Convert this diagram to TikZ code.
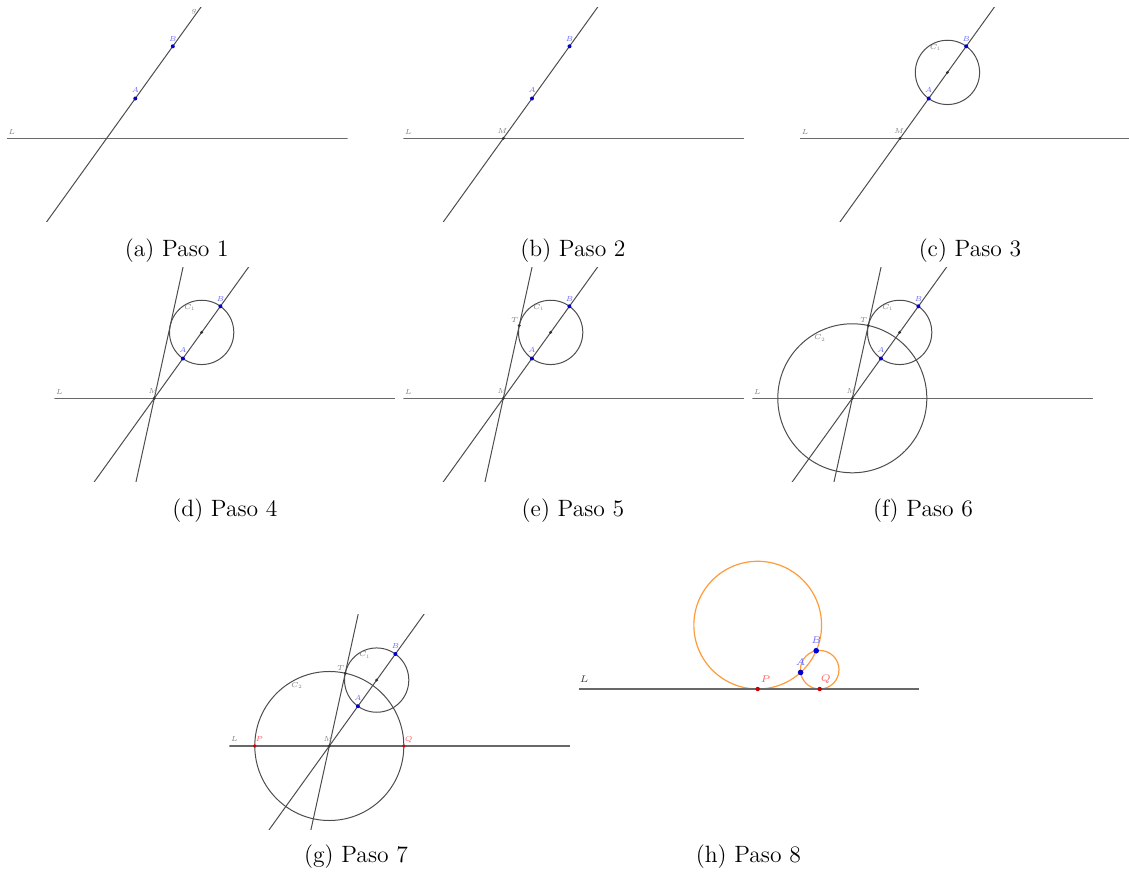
\RequirePackage{fix-cm}
\documentclass[tikz,border=0pt]{standalone}
\usepackage{amsmath}
\usepackage{amssymb}
\usepackage{tikz}
\usetikzlibrary{calc}
\definecolor{gristrazo}{HTML}{4D4D4D}
\definecolor{azulpunto}{HTML}{0000D0}
\definecolor{azuletiq}{HTML}{6A6AFF}
\definecolor{rojopunto}{HTML}{CC0000}
\definecolor{rojoetiq}{HTML}{FF5C5C}
\definecolor{naranja}{HTML}{FF9B3A}
\tikzset{
  recta/.style={draw=gristrazo, line width=0.5pt},
  rectaL/.style={draw=gristrazo!85, line width=0.7pt},
  circunf/.style={draw=gristrazo, line width=0.5pt},
  lugar/.style={draw=naranja, line width=0.6pt},
  etiq/.style={inner sep=0pt, text=gray, font=\fontsize{3.6}{4}\selectfont},
  etiqh/.style={inner sep=0pt, font=\fontsize{4.8}{5}\selectfont},
  pie/.style={anchor=base, inner sep=0pt, font=\fontsize{11.8}{14}\selectfont},
}

\begin{document}
\begin{tikzpicture}[x=0.5pt,y=0.5pt]
\useasboundingbox (0,0) rectangle (1129,873);

% (a) Paso 1
\begin{scope}[shift={(106.7,734.7)}]
\clip (-100,-83) rectangle (241,131);
\coordinate (M) at (0,0);
\coordinate (A) at (54.3:49);
\coordinate (B) at (54.3:113.3);
\draw[rectaL] (-100,0) -- (241,0);
\draw[recta] ($(M)!-3!(B)$) -- ($(M)!3!(B)$);
\fill[azulpunto] (A) circle (2) (B) circle (2);
\node[etiq] (labL) at (-95,6.6) {$L$};
\node[etiq] (labg) at (87.3,126.6) {$g$};
\node[etiq, text=azuletiq] (labA) at ($(A)+(0,8)$) {$A$};
\node[etiq, text=azuletiq] (labB) at ($(B)+(0,7.7)$) {$B$};
\end{scope}
\node[pie] (capa) at (176.8,616.3) {(a) Paso 1};

% (b) Paso 2
\begin{scope}[shift={(503.4,734.7)}]
\clip (-100,-83) rectangle (241,131);
\coordinate (M) at (0,0);
\coordinate (A) at (54.3:49);
\coordinate (B) at (54.3:113.3);
\draw[rectaL] (-100,0) -- (241,0);
\draw[recta] ($(M)!-3!(B)$) -- ($(M)!3!(B)$);
\fill[black!80] (M) circle (1.6);
\fill[azulpunto] (A) circle (2) (B) circle (2);
\node[etiq] (labL) at (-95,6.6) {$L$};
\node[etiq] (labM) at (-1,7.3) {$M$};
\node[etiq, text=azuletiq] (labA) at ($(A)+(0,8)$) {$A$};
\node[etiq, text=azuletiq] (labB) at ($(B)+(0,7.7)$) {$B$};
\end{scope}
\node[pie] (capb) at (573,616.3) {(b) Paso 2};

% (c) Paso 3
\begin{scope}[shift={(900.1,734.7)}]
\clip (-100,-83) rectangle (241,131);
\coordinate (M) at (0,0);
\coordinate (A) at (54.3:49);
\coordinate (B) at (54.3:113.3);
\coordinate (O) at (54.3:81.15);
\draw[rectaL] (-100,0) -- (241,0);
\draw[recta] ($(M)!-3!(B)$) -- ($(M)!3!(B)$);
\draw[circunf] (O) circle (32.15);
\fill[black!80] (M) circle (1.6) (O) circle (1.6);
\fill[azulpunto] (A) circle (2) (B) circle (2);
\node[etiq] (labL) at (-95,6.6) {$L$};
\node[etiq] (labM) at (-1,7.3) {$M$};
\node[etiq] (labC1) at (35.5,91) {$C_1$};
\node[etiq, text=azuletiq] (labA) at ($(A)+(0,8)$) {$A$};
\node[etiq, text=azuletiq] (labB) at ($(B)+(0,7.7)$) {$B$};
\end{scope}
\node[pie] (capc) at (970,616.3) {(c) Paso 3};

% (d) Paso 4
\begin{scope}[shift={(154.3,474.7)}]
\clip (-100,-83) rectangle (241,131);
\coordinate (M) at (0,0);
\coordinate (A) at (54.3:49);
\coordinate (B) at (54.3:113.3);
\coordinate (O) at (54.3:81.15);
\coordinate (T) at (77.64:74.51);
\draw[rectaL] (-100,0) -- (241,0);
\draw[recta] ($(M)!-3!(B)$) -- ($(M)!3!(B)$);
\draw[recta] ($(M)!-3!(T)$) -- ($(M)!3!(T)$);
\draw[circunf] (O) circle (32.15);
\fill[black!80] (M) circle (1.6) (O) circle (1.6);
\fill[azulpunto] (A) circle (2) (B) circle (2);
\node[etiq] (labL) at (-95,6.6) {$L$};
\node[etiq] (labM) at (-1,7.3) {$M$};
\node[etiq] (labC1) at (35.5,91) {$C_1$};
\node[etiq, text=azuletiq] (labA) at ($(A)+(0,8)$) {$A$};
\node[etiq, text=azuletiq] (labB) at ($(B)+(0,7.7)$) {$B$};
\end{scope}
\node[pie] (capd) at (225,356.5) {(d) Paso 4};

% (e) Paso 5
\begin{scope}[shift={(503.3,474.7)}]
\clip (-100,-83) rectangle (241,131);
\coordinate (M) at (0,0);
\coordinate (A) at (54.3:49);
\coordinate (B) at (54.3:113.3);
\coordinate (O) at (54.3:81.15);
\coordinate (T) at (77.64:74.51);
\draw[rectaL] (-100,0) -- (241,0);
\draw[recta] ($(M)!-3!(B)$) -- ($(M)!3!(B)$);
\draw[recta] ($(M)!-3!(T)$) -- ($(M)!3!(T)$);
\draw[circunf] (O) circle (32.15);
\fill[black!80] (M) circle (1.6) (O) circle (1.6) (T) circle (1.6);
\fill[azulpunto] (A) circle (2) (B) circle (2);
\node[etiq] (labL) at (-95,6.6) {$L$};
\node[etiq] (labM) at (-1,7.3) {$M$};
\node[etiq] (labT) at ($(T)+(-4.4,5.6)$) {$T$};
\node[etiq] (labC1) at (35.5,91) {$C_1$};
\node[etiq, text=azuletiq] (labA) at ($(A)+(0,8)$) {$A$};
\node[etiq, text=azuletiq] (labB) at ($(B)+(0,7.7)$) {$B$};
\end{scope}
\node[pie] (cape) at (573,356.5) {(e) Paso 5};

% (f) Paso 6
\begin{scope}[shift={(852.3,474.7)}]
\clip (-100,-83) rectangle (241,131);
\coordinate (M) at (0,0);
\coordinate (A) at (54.3:49);
\coordinate (B) at (54.3:113.3);
\coordinate (O) at (54.3:81.15);
\coordinate (T) at (77.64:74.51);
\draw[rectaL] (-100,0) -- (241,0);
\draw[recta] ($(M)!-3!(B)$) -- ($(M)!3!(B)$);
\draw[recta] ($(M)!-3!(T)$) -- ($(M)!3!(T)$);
\draw[circunf] (O) circle (32.15);
\draw[circunf] (M) circle (74.51);
\fill[black!80] (M) circle (1.6) (O) circle (1.6) (T) circle (1.6);
\fill[azulpunto] (A) circle (2) (B) circle (2);
\node[etiq] (labL) at (-95,6.6) {$L$};
\node[etiq] (labM) at (-1,7.3) {$M$};
\node[etiq] (labT) at ($(T)+(-4.4,5.6)$) {$T$};
\node[etiq] (labC1) at (35.5,91) {$C_1$};
\node[etiq] (labC2) at (-32.3,60.3) {$C_2$};
\node[etiq, text=azuletiq] (labA) at ($(A)+(0,8)$) {$A$};
\node[etiq, text=azuletiq] (labB) at ($(B)+(0,7.7)$) {$B$};
\end{scope}
\node[pie] (capf) at (923,356.5) {(f) Paso 6};

% (g) Paso 7
\begin{scope}[shift={(329.3,127)}]
\clip (-100,-83) rectangle (241,131);
\coordinate (M) at (0,0);
\coordinate (A) at (54.3:49);
\coordinate (B) at (54.3:113.3);
\coordinate (O) at (54.3:81.15);
\coordinate (T) at (77.64:74.51);
\coordinate (P) at (-74.51,0);
\coordinate (Q) at (74.51,0);
\draw[rectaL] (-100,0) -- (241,0);
\draw[recta] ($(M)!-3!(B)$) -- ($(M)!3!(B)$);
\draw[recta] ($(M)!-3!(T)$) -- ($(M)!3!(T)$);
\draw[circunf] (O) circle (32.15);
\draw[circunf] (M) circle (74.51);
\fill[black!80] (M) circle (1.6) (O) circle (1.6) (T) circle (1.6);
\fill[azulpunto] (A) circle (2) (B) circle (2);
\fill[rojopunto] (P) circle (1.8) (Q) circle (1.8);
\node[etiq] (labL) at (-95,6.6) {$L$};
\node[etiq] (labM) at (-1,7.3) {$M$};
\node[etiq] (labT) at ($(T)+(-4.4,5.6)$) {$T$};
\node[etiq] (labC1) at (35.5,91) {$C_1$};
\node[etiq] (labC2) at (-32.3,60.3) {$C_2$};
\node[etiq, text=azuletiq] (labA) at ($(A)+(0,8)$) {$A$};
\node[etiq, text=azuletiq] (labB) at ($(B)+(0,7.7)$) {$B$};
\node[etiq, text=rojoetiq] (labP) at ($(P)+(4.7,6.7)$) {$P$};
\node[etiq, text=rojoetiq] (labQ) at ($(Q)+(5,6.7)$) {$Q$};
\end{scope}
\node[pie] (capg) at (356,11) {(g) Paso 7};

% (h) Paso 8
\begin{scope}[shift={(788.7,184)}]
\coordinate (A) at (54.3:20.38);
\coordinate (B) at (54.3:47.13);
\coordinate (P) at (-31,0);
\coordinate (Q) at (31,0);
\draw[lugar] (-31,63.86) circle (63.86);
\draw[lugar] (31,19.29) circle (19.29);
\draw[rectaL] (-210,0) -- (130,0);
\fill[azulpunto] (A) circle (2.8) (B) circle (2.8);
\fill[rojopunto] (P) circle (2.2) (Q) circle (2.2);
\node[etiqh, text=black!75] (labL) at (-204.4,10) {$L$};
\node[etiqh, text=azuletiq] (labA) at ($(A)+(0,10)$) {$A$};
\node[etiqh, text=azuletiq] (labB) at ($(B)+(0,10.7)$) {$B$};
\node[etiqh, text=rojoetiq] (labP) at ($(P)+(8,9.7)$) {$P$};
\node[etiqh, text=rojoetiq] (labQ) at ($(Q)+(6,9.7)$) {$Q$};
\end{scope}
\node[pie] (caph) at (748.3,11) {(h) Paso 8};
\end{tikzpicture}
\end{document}
